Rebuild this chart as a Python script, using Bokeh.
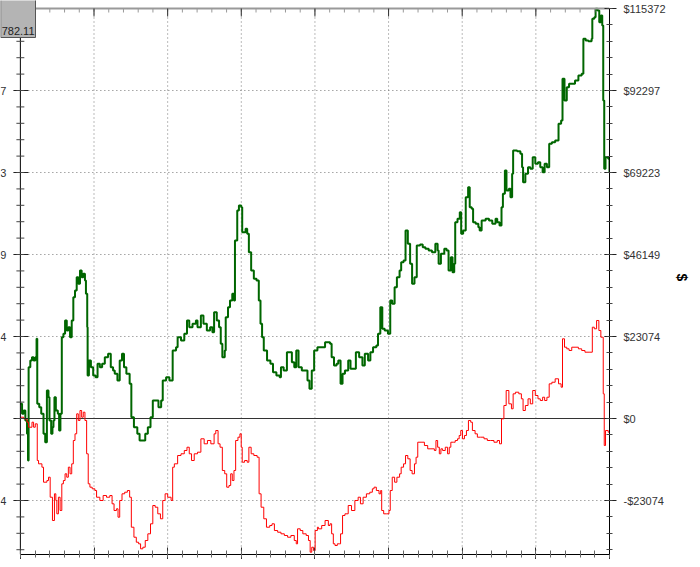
from bokeh.plotting import figure
from bokeh.models import (Range1d, LinearAxis, FixedTicker, Label, CustomJSTickFormatter)
from bokeh.embed import file_html
from bokeh.resources import INLINE

# ---------------- data ----------------
green_x = [0, 1.7, 3.3, 5, 6.7, 7.7, 8.3, 10, 11.7, 13.3,
           15, 16.3, 17, 19, 21, 23.3, 25, 26.7, 28.3, 29.3,
           31, 32.3, 33.3, 34.3, 35.7, 37.7, 39, 40.3, 41.7, 43.3,
           45, 46.7, 48.3, 50, 51.7, 53.3, 55, 56.7, 58.3, 60,
           61.7, 63.3, 65, 66, 67.3, 67.7, 69, 71, 73.3, 75.7,
           77.7, 80, 82.3, 85, 88.3, 91, 93.3, 95, 97.7, 100,
           102.3, 104.3, 106.7, 110, 111.7, 114.3, 117.7, 120, 123.3, 125.7,
           128.3, 131, 133.3, 136.7, 139, 141.7, 143.3, 146.7, 150, 151.7,
           153.3, 156.7, 158.3, 161.7, 165, 167.7, 170, 173.3, 176.7, 178.3,
           181.7, 184.3, 187.7, 191, 193.3, 195, 197.7, 200, 201.7, 203.3,
           205.7, 206.7, 209, 211, 213.3, 215, 216, 218.3, 220, 222.3,
           223.3, 226.7, 228.3, 230, 232.3, 235, 237.7, 240, 241.7, 243.3,
           245, 248.3, 251.7, 254.3, 257.7, 261, 262.3, 265, 268.3, 271.7,
           273.3, 275.7, 277.7, 280, 283.3, 286.7, 289, 291, 293.3, 295.7,
           299, 301.7, 306.7, 311.7, 313.3, 315.7, 318.3, 320, 322.3, 324.3,
           326.7, 330, 332.3, 335, 337.7, 341, 344.3, 346.7, 350, 352.3,
           355, 358.3, 360, 362.3, 364.3, 366.7, 370, 372.3, 374.3, 376.7,
           379, 381.7, 383.3, 385.7, 387.7, 390, 392.3, 394.3, 396.7, 399,
           402.3, 405, 407.7, 411, 414.3, 417.7, 420, 421, 423.3, 426.7,
           429, 431, 433.3, 435, 436.7, 437.7, 440, 442.3, 443.7, 445.7,
           448.3, 450.7, 452.3, 454.3, 455.7, 458.3, 461, 462.3, 464.3, 468.3,
           471.7, 475, 478.3, 480, 482.3, 484.3, 485.7, 487.7, 489.3, 491.7,
           493.3, 495, 496, 500, 503.3, 505, 506, 508.3, 511, 513.3,
           515.7, 518.3, 521, 523.3, 525.7, 527.7, 530, 532.3, 535, 538.3,
           541.7, 544.3, 545.7, 547.7, 550, 552.3, 555, 558.3, 561.7, 565,
           566.7, 569, 571.7, 575, 575.7, 577.7, 579, 581, 582.7, 584.3,
           585.7, 586.7, 587.7, 589, 591.7, 593]
green_y = [4130, 1320, 2250, -560, -4310, -11820, 14440, 16320, 17250, 16320,
           17250, 22430, 4130, 3180, 1320, -4310, -6670, 7880, 5990, -560,
           -4310, -2450, -560, 5990, 2250, 1320, -3380, 1320, 22880, 23830,
           27580, 24760, 25690, 22880, 27580, 34130, 36020, 39760, 37900, 41650,
           39760, 40720, 38830, 35090, 25690, 12100, 16320, 14440, 12100, 11620,
           15390, 14440, 15390, 17250, 18210, 14440, 13510, 12580, 10690, 16320,
           18210, 14440, 12580, 9760, 370, -2450, -4310, -6190, -6190, -4310,
           -2450, 370, 5070, 5070, 3180, 5070, 10690, 11620, 10690, 10690,
           19140, 20060, 22880, 21950, 23830, 27580, 25690, 26650, 27580, 25690,
           28980, 26650, 24760, 25690, 24290, 29910, 27580, 25690, 21020, 17250,
           19140, 28510, 31320, 33210, 35090, 33210, 50090, 58530, 59940, 59460,
           52430, 53380, 51970, 46800, 41650, 39310, 38830, 33210, 26650, 22880,
           19140, 16320, 15390, 13030, 12100, 11620, 14440, 13510, 18660, 18660,
           15840, 14440, 19140, 14440, 13510, 13510, 10690, 8360, 13510, 19140,
           20060, 20060, 21470, 21020, 17250, 14910, 15390, 16320, 9760, 12580,
           13510, 16320, 13990, 13990, 18660, 17250, 14910, 18210, 16320, 18660,
           20060, 20540, 23830, 31320, 25240, 24760, 23830, 33210, 32280, 36950,
           39760, 41650, 43980, 44460, 52900, 49160, 43530, 37900, 39760, 48680,
           48960, 48200, 47750, 47280, 46800, 49160, 47280, 43530, 46350, 47750,
           47280, 41650, 45390, 41170, 43530, 55240, 56200, 58050, 51970, 52900,
           62270, 65090, 59460, 59010, 55240, 54790, 53830, 52900, 55720, 56200,
           55720, 54790, 56200, 55240, 54310, 59460, 63230, 69790, 64160, 64640,
           62270, 68860, 75420, 75220, 74490, 70720, 66500, 68860, 70720, 70270,
           73530, 71670, 72120, 70720, 69310, 71670, 70720, 77300, 77750, 78230,
           82930, 83860, 95590, 89490, 93230, 94180, 94180, 95110, 96520, 97000,
           106850, 106370, 106170, 106850, 112480, 112930, 115290, 114810, 111520, 113400,
           110590, 89490, 70270, 73530, 73080, 69310]

red_x = [0, 3.3, 6.7, 8.3, 11.7, 13.3, 15, 17, 18.3, 21.7,
         23.3, 26.7, 28.3, 30, 32.3, 34.3, 35.7, 36.7, 38.3, 40,
         41.7, 43.3, 45, 46.7, 48.3, 50, 51.7, 53.3, 55, 56.7,
         58.3, 60, 61.7, 63.3, 65, 66.7, 68.3, 70, 72.3, 75,
         76.7, 80, 83.3, 86.7, 90, 92.3, 94.3, 96.7, 98.3, 100,
         102.3, 105, 107.7, 110, 111.7, 114.3, 116.7, 119, 121, 123.3,
         125.7, 128.3, 131, 133.3, 135.7, 138.3, 141, 143.3, 145.7, 148.3,
         151.7, 153.3, 155, 158.3, 161.7, 165, 167.7, 170, 172.3, 175,
         178.3, 181.7, 185, 188.3, 191.7, 195, 196.7, 199, 201, 203.3,
         205.7, 207.7, 210, 211.7, 213.3, 215, 216.7, 219, 221, 222.3,
         223.3, 225.7, 228.3, 230, 232.3, 235, 238.3, 240.3, 242.3, 245,
         247.7, 251, 253.3, 255.7, 259, 262.3, 265.7, 269, 272.3, 275.7,
         277.7, 279, 281.7, 284.3, 287.7, 290, 291.7, 293.3, 295, 296.7,
         299, 300, 303.3, 306.7, 310, 311.7, 313.3, 315, 316.7, 319,
         321, 322.3, 324.3, 326.7, 330, 333.3, 336.7, 340, 342.3, 345,
         348.3, 351.7, 354.3, 356, 358.3, 361, 362.7, 363.7, 365.7, 368.3,
         371, 372.3, 374.3, 376.7, 379, 381.7, 383.3, 385.7, 387.7, 390,
         392.3, 394.3, 396.7, 398.3, 400, 403.3, 406.7, 410, 413.3, 416.7,
         418.3, 420, 421.7, 423.3, 425, 427.7, 430, 431.7, 433.3, 435.7,
         437.7, 440, 441.7, 443.3, 445, 447, 449, 451, 453.3, 455,
         457.7, 460, 463.3, 466.7, 470, 473.3, 476.7, 480, 482.3, 484.3,
         486.7, 489, 491.7, 494.3, 496, 498.3, 501.7, 504.3, 506, 508.3,
         511, 513.3, 515.7, 518.3, 521, 523.3, 525.7, 527.7, 530, 532.3,
         535, 538.3, 541.7, 544.3, 545.7, 547.7, 550, 552.3, 555, 558.3,
         561.7, 565, 568.3, 573.3, 575.7, 577.7, 580, 582.3, 584.3, 585.7,
         586.7, 587.7, 589, 591.7, 593]
red_y = [370, -90, -1040, -2450, -1040, -2450, -1500, -11820, -12750, -13700,
         -17920, -17450, -16520, -22150, -28700, -21190, -23070, -26820, -22150, -25890,
         -18380, -17450, -15560, -16520, -13700, -15560, -12750, -6190, -4310, 1320,
         -560, 2250, 370, 1770, -560, -9930, -18380, -19330, -19780, -20260,
         -22150, -23070, -21670, -22150, -21670, -24000, -25890, -25410, -27770, -23070,
         -21190, -20740, -20260, -22150, -30590, -33400, -34810, -35260, -36670, -36220,
         -34330, -32450, -29630, -24480, -24960, -26820, -28220, -23070, -21190, -22150,
         -23070, -13700, -12750, -10410, -9930, -9000, -8080, -9930, -11820, -9930,
         -9480, -5710, -7120, -6190, -7120, -4310, -3380, -7120, -8080, -14630,
         -15560, -19330, -18850, -15560, -17450, -14630, -6190, -5260, -4310, -8080,
         -12300, -11820, -12300, -8080, -9930, -10410, -10890, -21190, -24960, -28220,
         -30590, -30110, -29630, -31520, -32000, -32450, -32920, -33400, -32920, -34330,
         -35260, -31040, -31520, -32450, -32920, -34330, -37620, -36220, -37140, -31520,
         -30590, -31040, -30110, -28700, -30110, -29630, -32450, -35260, -35740, -35260,
         -35260, -32450, -27300, -26820, -24480, -25890, -23070, -22150, -24000, -22150,
         -21190, -20740, -19780, -19330, -20260, -21190, -20260, -25890, -26820, -26820,
         -25890, -20260, -16520, -17920, -16520, -15560, -13700, -12750, -10410, -11340,
         -14630, -15560, -12750, -10890, -6670, -6670, -7600, -8530, -8530, -9000,
         -6190, -8080, -9930, -8530, -9000, -8080, -9930, -8080, -6670, -6670,
         -6190, -5710, -4780, -3380, -5710, -4780, -3380, -560, -1040, -3380,
         -4310, -5260, -5260, -5710, -6190, -6190, -6670, -6190, -7120, -90,
         3660, 7880, 4130, 2730, 6950, 7400, 6950, 5540, 2250, 3660,
         5540, 4130, 7880, 6470, 5540, 5070, 5990, 5070, 5990, 9760,
         10210, 11170, 9760, 8810, 22430, 20060, 19610, 19140, 20060, 20060,
         19610, 19140, 18660, 18660, 25690, 25240, 27580, 24760, 22880, 22880,
         6950, -7600, -3380, -3860, -4310]

y_tick_values = [-23074, 0, 23074, 46149, 69223, 92297, 115372]
y_tick_labels = ["-$23074", "$0", "$23074", "$46149", "$69223", "$92297", "$115372"]
trade_count = 593
x_divisions = 8
badge_text = "782.11"
axis_title = "$"

# ---------------- layout / style ----------------
FONT = "Liberation Sans"
W, H = 692, 559
LEFT_GUTTER = 20          # pixels left of the first trade (room for the left scale)
TOP_GUTTER = 8            # pixels above the top tick
FRAME_W = LEFT_GUTTER + trade_count
FRAME_H = 554
BR = W - FRAME_W
BB = H - FRAME_H

y_top_tick = y_tick_values[-1]
px_y = (y_tick_values[2] - y_tick_values[1]) / 82.0      # value per pixel
y_high = y_top_tick + TOP_GUTTER * px_y
y_low = y_high - FRAME_H * px_y
px_x = 1.0                                                  # trades per pixel

p = figure(width=W, height=H,
           x_range=Range1d(-LEFT_GUTTER * px_x, trade_count),
           y_range=Range1d(y_low, y_high),
           output_backend="svg", toolbar_location=None,
           x_axis_location=None, y_axis_location=None,
           min_border_left=0, min_border_right=BR,
           min_border_top=0, min_border_bottom=BB)
p.center = []
p.outline_line_color = None
p.background_fill_color = "white"
p.border_fill_color = "white"

x_major = [trade_count * i / x_divisions for i in range(x_divisions + 1)]
x_minor = [trade_count * i / (x_divisions * 5) for i in range(x_divisions * 5 + 1)]
y_step = (y_tick_values[2] - y_tick_values[1]) / 5
y_minor = []
v = y_tick_values[0]
while v - y_step >= y_low:
    v -= y_step
while v <= y_top_tick + 1:
    y_minor.append(v)
    v += y_step

blank = CustomJSTickFormatter(code="return ''")

# dotted grid
gy = [t for t in y_tick_values if t not in (0, y_top_tick)]
p.segment(x0=[0] * len(gy), x1=[trade_count] * len(gy), y0=gy, y1=gy,
          line_color="#777777", line_width=1, line_dash="1 3")
gx = x_major[1:-1]
p.segment(x0=gx, x1=gx, y0=[y_low] * len(gx), y1=[y_top_tick] * len(gx),
          line_color="#777777", line_width=1, line_dash="1 3")

# zero line
p.segment(x0=[0], x1=[trade_count], y0=[0], y1=[0], line_color="#333333", line_width=1)

# series
p.step(x=green_x, y=green_y, mode="after", line_color="#006600", line_width=2)
p.step(x=red_x, y=red_y, mode="after", line_color="#ff0000", line_width=1)

# top border with inner ticks
p.segment(x0=[0], x1=[trade_count], y0=[y_top_tick], y1=[y_top_tick],
          line_color="#999999", line_width=2)
p.segment(x0=x_minor, x1=x_minor, y0=[y_top_tick] * len(x_minor),
          y1=[y_top_tick - 4 * px_y] * len(x_minor), line_color="#999999", line_width=1)
p.segment(x0=x_major, x1=x_major, y0=[y_top_tick] * len(x_major),
          y1=[y_top_tick - 8 * px_y] * len(x_major), line_color="#333333", line_width=1)

# left scale (line + ticks)
p.segment(x0=[0], x1=[0], y0=[y_low], y1=[y_top_tick], line_color="#000000", line_width=1)
p.segment(x0=[-7 * px_x] * len(y_tick_values), x1=[8 * px_x] * len(y_tick_values),
          y0=y_tick_values, y1=y_tick_values, line_color="#222222", line_width=1)
p.segment(x0=[-4 * px_x] * len(y_minor), x1=[4 * px_x] * len(y_minor),
          y0=y_minor, y1=y_minor, line_color="#444444", line_width=1)

# left labels: only their last character shows at the page edge
for t, lab in zip(y_tick_values, y_tick_labels):
    if t in (0, y_top_tick):
        continue
    p.add_layout(Label(x=-14 * px_x, y=t, x_units="data", y_units="data", text=lab[-1],
                       text_align="right", text_baseline="middle",
                       text_font=FONT, text_font_size="11px", text_color="#333333"))

# right axis with dollar labels
right = LinearAxis(ticker=FixedTicker(ticks=y_tick_values, minor_ticks=y_minor),
                   major_label_overrides={t: lab for t, lab in zip(y_tick_values, y_tick_labels)},
                   bounds=(y_low, y_top_tick),
                   axis_label=axis_title,
                   axis_line_color="#000000",
                   major_tick_line_color="#222222", minor_tick_line_color="#444444",
                   major_tick_in=5, major_tick_out=7,
                   minor_tick_in=3, minor_tick_out=3,
                   major_label_standoff=7,
                   major_label_text_font=FONT, major_label_text_font_size="11px",
                   major_label_text_color="#333333",
                   axis_label_text_font=FONT, axis_label_text_font_size="14px",
                   axis_label_text_font_style="bold", axis_label_text_color="#000000",
                   axis_label_standoff=5)
p.add_layout(right, "right")

# bottom axis
bottom = LinearAxis(ticker=FixedTicker(ticks=x_major, minor_ticks=x_minor),
                    formatter=blank, major_label_standoff=0, bounds=(0, trade_count),
                    axis_line_color="#000000",
                    major_tick_line_color="#333333", minor_tick_line_color="#666666",
                    major_tick_in=7, major_tick_out=5, minor_tick_in=4, minor_tick_out=3)
p.add_layout(bottom, "below")

# value badge, top-left
p.add_layout(Label(x=35, y=FRAME_H - 37, x_units="screen", y_units="screen",
                   text=" \n \n" + badge_text, text_align="right", text_baseline="bottom",
                   text_font=FONT, text_font_size="11px", text_color="#222222",
                   text_line_height=1.25,
                   background_fill_color="#b4b4b4", border_line_color="#555555",
                   padding=1))

open("out.html", "w").write(file_html(p, INLINE))
